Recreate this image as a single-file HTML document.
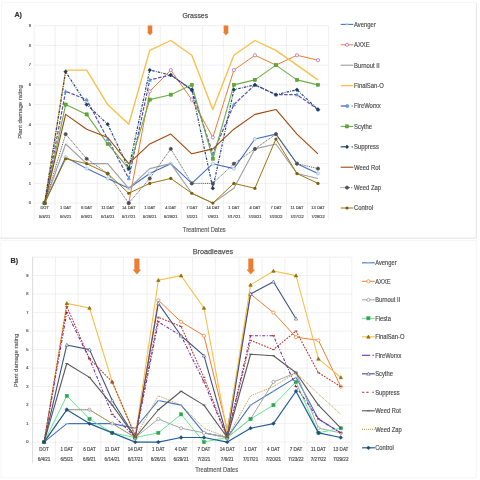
<!DOCTYPE html><html><head><meta charset="utf-8"><style>html,body{margin:0;padding:0;background:#fff;width:480px;height:480px;overflow:hidden}svg{display:block;filter:blur(0.55px)}</style></head><body>
<svg width="480" height="480" viewBox="0 0 480 480" font-family='"Liberation Sans", sans-serif'><style>text{stroke-width:0.15px}</style>
<rect width="480" height="480" fill="#ffffff"/>
<path d="M1.5 238.2V2.7H476.3" fill="none" stroke="#f6f6f6" stroke-width="1"/>
<path d="M0 238.2H476.3V2.7" fill="none" stroke="#e3e3e3" stroke-width="1"/>
<rect x="1" y="240.6" width="475.3" height="237.2" fill="#ffffff" stroke="#f6f6f6" stroke-width="1"/>
<text x="14.4" y="17.4" font-size="7.2" font-weight="bold" fill="#333333" stroke="#333333" style="stroke-width:0.2px">A)</text>
<text x="195.3" y="18" font-size="6.9" fill="#595959" stroke="#595959" style="stroke-width:0.25px" text-anchor="middle">Grasses</text>
<path d="M34.1 203.1H328.5" stroke="#e6e6e6" stroke-width="0.6"/>
<path d="M34.1 183.39H328.5" stroke="#e6e6e6" stroke-width="0.6"/>
<path d="M34.1 163.68H328.5" stroke="#e6e6e6" stroke-width="0.6"/>
<path d="M34.1 143.97H328.5" stroke="#e6e6e6" stroke-width="0.6"/>
<path d="M34.1 124.26H328.5" stroke="#e6e6e6" stroke-width="0.6"/>
<path d="M34.1 104.55H328.5" stroke="#e6e6e6" stroke-width="0.6"/>
<path d="M34.1 84.84H328.5" stroke="#e6e6e6" stroke-width="0.6"/>
<path d="M34.1 65.13H328.5" stroke="#e6e6e6" stroke-width="0.6"/>
<path d="M34.1 45.42H328.5" stroke="#e6e6e6" stroke-width="0.6"/>
<path d="M34.1 25.71H328.5" stroke="#e6e6e6" stroke-width="0.6"/>
<path d="M34.1 25.71V219.5" stroke="#e6e6e6" stroke-width="0.6"/>
<path d="M55.13 25.71V219.5" stroke="#e6e6e6" stroke-width="0.6"/>
<path d="M76.16 25.71V219.5" stroke="#e6e6e6" stroke-width="0.6"/>
<path d="M97.19 25.71V219.5" stroke="#e6e6e6" stroke-width="0.6"/>
<path d="M118.21 25.71V219.5" stroke="#e6e6e6" stroke-width="0.6"/>
<path d="M139.24 25.71V219.5" stroke="#e6e6e6" stroke-width="0.6"/>
<path d="M160.27 25.71V219.5" stroke="#e6e6e6" stroke-width="0.6"/>
<path d="M181.3 25.71V219.5" stroke="#e6e6e6" stroke-width="0.6"/>
<path d="M202.33 25.71V219.5" stroke="#e6e6e6" stroke-width="0.6"/>
<path d="M223.36 25.71V219.5" stroke="#e6e6e6" stroke-width="0.6"/>
<path d="M244.39 25.71V219.5" stroke="#e6e6e6" stroke-width="0.6"/>
<path d="M265.41 25.71V219.5" stroke="#e6e6e6" stroke-width="0.6"/>
<path d="M286.44 25.71V219.5" stroke="#e6e6e6" stroke-width="0.6"/>
<path d="M307.47 25.71V219.5" stroke="#e6e6e6" stroke-width="0.6"/>
<path d="M328.5 25.71V219.5" stroke="#e6e6e6" stroke-width="0.6"/>
<text x="31.1" y="204.4" font-size="4" fill="#595959" stroke="#595959" style="stroke-width:0.2px" text-anchor="end">0</text>
<text x="31.1" y="184.69" font-size="4" fill="#595959" stroke="#595959" style="stroke-width:0.2px" text-anchor="end">1</text>
<text x="31.1" y="164.98" font-size="4" fill="#595959" stroke="#595959" style="stroke-width:0.2px" text-anchor="end">2</text>
<text x="31.1" y="145.27" font-size="4" fill="#595959" stroke="#595959" style="stroke-width:0.2px" text-anchor="end">3</text>
<text x="31.1" y="125.56" font-size="4" fill="#595959" stroke="#595959" style="stroke-width:0.2px" text-anchor="end">4</text>
<text x="31.1" y="105.85" font-size="4" fill="#595959" stroke="#595959" style="stroke-width:0.2px" text-anchor="end">5</text>
<text x="31.1" y="86.14" font-size="4" fill="#595959" stroke="#595959" style="stroke-width:0.2px" text-anchor="end">6</text>
<text x="31.1" y="66.43" font-size="4" fill="#595959" stroke="#595959" style="stroke-width:0.2px" text-anchor="end">7</text>
<text x="31.1" y="46.72" font-size="4" fill="#595959" stroke="#595959" style="stroke-width:0.2px" text-anchor="end">8</text>
<text x="31.1" y="27.01" font-size="4" fill="#595959" stroke="#595959" style="stroke-width:0.2px" text-anchor="end">9</text>
<text x="44.61" y="209.2" font-size="4" fill="#595959" stroke="#595959" style="stroke-width:0.2px" text-anchor="middle">DOT</text>
<text x="44.61" y="217.5" font-size="4" fill="#595959" stroke="#595959" style="stroke-width:0.2px" text-anchor="middle">6/4/21</text>
<text x="65.64" y="209.2" font-size="4" fill="#595959" stroke="#595959" style="stroke-width:0.2px" text-anchor="middle">1 DAT</text>
<text x="65.64" y="217.5" font-size="4" fill="#595959" stroke="#595959" style="stroke-width:0.2px" text-anchor="middle">6/5/21</text>
<text x="86.67" y="209.2" font-size="4" fill="#595959" stroke="#595959" style="stroke-width:0.2px" text-anchor="middle">6 DAT</text>
<text x="86.67" y="217.5" font-size="4" fill="#595959" stroke="#595959" style="stroke-width:0.2px" text-anchor="middle">6/9/21</text>
<text x="107.7" y="209.2" font-size="4" fill="#595959" stroke="#595959" style="stroke-width:0.2px" text-anchor="middle">11 DAT</text>
<text x="107.7" y="217.5" font-size="4" fill="#595959" stroke="#595959" style="stroke-width:0.2px" text-anchor="middle">6/14/21</text>
<text x="128.73" y="209.2" font-size="4" fill="#595959" stroke="#595959" style="stroke-width:0.2px" text-anchor="middle">14 DAT</text>
<text x="128.73" y="217.5" font-size="4" fill="#595959" stroke="#595959" style="stroke-width:0.2px" text-anchor="middle">6/17/21</text>
<text x="149.76" y="209.2" font-size="4" fill="#595959" stroke="#595959" style="stroke-width:0.2px" text-anchor="middle">1 DAT</text>
<text x="149.76" y="217.5" font-size="4" fill="#595959" stroke="#595959" style="stroke-width:0.2px" text-anchor="middle">6/26/21</text>
<text x="170.79" y="209.2" font-size="4" fill="#595959" stroke="#595959" style="stroke-width:0.2px" text-anchor="middle">4 DAT</text>
<text x="170.79" y="217.5" font-size="4" fill="#595959" stroke="#595959" style="stroke-width:0.2px" text-anchor="middle">6/29/21</text>
<text x="191.81" y="209.2" font-size="4" fill="#595959" stroke="#595959" style="stroke-width:0.2px" text-anchor="middle">7 DAT</text>
<text x="191.81" y="217.5" font-size="4" fill="#595959" stroke="#595959" style="stroke-width:0.2px" text-anchor="middle">7/2/21</text>
<text x="212.84" y="209.2" font-size="4" fill="#595959" stroke="#595959" style="stroke-width:0.2px" text-anchor="middle">14 DAT</text>
<text x="212.84" y="217.5" font-size="4" fill="#595959" stroke="#595959" style="stroke-width:0.2px" text-anchor="middle">7/9/21</text>
<text x="233.87" y="209.2" font-size="4" fill="#595959" stroke="#595959" style="stroke-width:0.2px" text-anchor="middle">1 DAT</text>
<text x="233.87" y="217.5" font-size="4" fill="#595959" stroke="#595959" style="stroke-width:0.2px" text-anchor="middle">7/17/21</text>
<text x="254.9" y="209.2" font-size="4" fill="#595959" stroke="#595959" style="stroke-width:0.2px" text-anchor="middle">4 DAT</text>
<text x="254.9" y="217.5" font-size="4" fill="#595959" stroke="#595959" style="stroke-width:0.2px" text-anchor="middle">7/20/21</text>
<text x="275.93" y="209.2" font-size="4" fill="#595959" stroke="#595959" style="stroke-width:0.2px" text-anchor="middle">7 DAT</text>
<text x="275.93" y="217.5" font-size="4" fill="#595959" stroke="#595959" style="stroke-width:0.2px" text-anchor="middle">7/23/22</text>
<text x="296.96" y="209.2" font-size="4" fill="#595959" stroke="#595959" style="stroke-width:0.2px" text-anchor="middle">11 DAT</text>
<text x="296.96" y="217.5" font-size="4" fill="#595959" stroke="#595959" style="stroke-width:0.2px" text-anchor="middle">7/27/22</text>
<text x="317.99" y="209.2" font-size="4" fill="#595959" stroke="#595959" style="stroke-width:0.2px" text-anchor="middle">13 DAT</text>
<text x="317.99" y="217.5" font-size="4" fill="#595959" stroke="#595959" style="stroke-width:0.2px" text-anchor="middle">7/29/22</text>
<path d="M44.61 203.1L65.64 157.18L86.67 168.61L107.7 178.46L128.73 188.32L149.76 173.53L170.79 163.68L191.81 183.39L212.84 163.68L233.87 168.61L254.9 139.04L275.93 134.12L296.96 163.68L317.99 173.53" fill="none" stroke="#4472c4" stroke-width="1.1" stroke-linejoin="round"/>
<circle cx="44.61" cy="203.1" r="1.6" fill="#dbe8f6" stroke="#9dc3e6" stroke-width="0.7"/>
<circle cx="65.64" cy="157.18" r="1.6" fill="#dbe8f6" stroke="#9dc3e6" stroke-width="0.7"/>
<circle cx="86.67" cy="168.61" r="1.6" fill="#dbe8f6" stroke="#9dc3e6" stroke-width="0.7"/>
<circle cx="107.7" cy="178.46" r="1.6" fill="#dbe8f6" stroke="#9dc3e6" stroke-width="0.7"/>
<circle cx="128.73" cy="188.32" r="1.6" fill="#dbe8f6" stroke="#9dc3e6" stroke-width="0.7"/>
<circle cx="149.76" cy="173.53" r="1.6" fill="#dbe8f6" stroke="#9dc3e6" stroke-width="0.7"/>
<circle cx="170.79" cy="163.68" r="1.6" fill="#dbe8f6" stroke="#9dc3e6" stroke-width="0.7"/>
<circle cx="191.81" cy="183.39" r="1.6" fill="#dbe8f6" stroke="#9dc3e6" stroke-width="0.7"/>
<circle cx="212.84" cy="163.68" r="1.6" fill="#dbe8f6" stroke="#9dc3e6" stroke-width="0.7"/>
<circle cx="233.87" cy="168.61" r="1.6" fill="#dbe8f6" stroke="#9dc3e6" stroke-width="0.7"/>
<circle cx="254.9" cy="139.04" r="1.6" fill="#dbe8f6" stroke="#9dc3e6" stroke-width="0.7"/>
<circle cx="275.93" cy="134.12" r="1.6" fill="#dbe8f6" stroke="#9dc3e6" stroke-width="0.7"/>
<circle cx="296.96" cy="163.68" r="1.6" fill="#dbe8f6" stroke="#9dc3e6" stroke-width="0.7"/>
<circle cx="317.99" cy="173.53" r="1.6" fill="#dbe8f6" stroke="#9dc3e6" stroke-width="0.7"/>
<path d="M128.73 203.1L149.76 91.34L170.79 70.06L191.81 99.62L212.84 137.47L233.87 70.06L254.9 55.27L275.93 65.13L296.96 55.27L317.99 60.2" fill="none" stroke="#ed7d31" stroke-width="1" stroke-linejoin="round"/>
<circle cx="128.73" cy="203.1" r="1.6" fill="#ffffff" stroke="#9e5fa8" stroke-width="0.7"/>
<circle cx="149.76" cy="91.34" r="1.6" fill="#ffffff" stroke="#9e5fa8" stroke-width="0.7"/>
<circle cx="170.79" cy="70.06" r="1.6" fill="#ffffff" stroke="#9e5fa8" stroke-width="0.7"/>
<circle cx="191.81" cy="99.62" r="1.6" fill="#ffffff" stroke="#9e5fa8" stroke-width="0.7"/>
<circle cx="212.84" cy="137.47" r="1.6" fill="#ffffff" stroke="#9e5fa8" stroke-width="0.7"/>
<circle cx="233.87" cy="70.06" r="1.6" fill="#ffffff" stroke="#9e5fa8" stroke-width="0.7"/>
<circle cx="254.9" cy="55.27" r="1.6" fill="#ffffff" stroke="#9e5fa8" stroke-width="0.7"/>
<circle cx="275.93" cy="65.13" r="1.6" fill="#ffffff" stroke="#9e5fa8" stroke-width="0.7"/>
<circle cx="296.96" cy="55.27" r="1.6" fill="#ffffff" stroke="#9e5fa8" stroke-width="0.7"/>
<circle cx="317.99" cy="60.2" r="1.6" fill="#ffffff" stroke="#9e5fa8" stroke-width="0.7"/>
<path d="M44.61 203.1L65.64 143.97L86.67 163.68L107.7 163.68L128.73 188.32L149.76 168.61L170.79 163.68L191.81 193.25L212.84 203.1L233.87 188.32L254.9 148.9L275.93 143.97L296.96 173.53L317.99 178.46" fill="none" stroke="#a0a0a0" stroke-width="1.15" stroke-linejoin="round"/>














<path d="M44.61 203.1L65.64 70.06L86.67 70.06L107.7 104.55L128.73 124.26L149.76 50.35L170.79 40.49L191.81 55.27L212.84 109.48L233.87 55.27L254.9 40.49L275.93 50.35L296.96 65.13L317.99 79.91" fill="none" stroke="#f7c048" stroke-width="1.35" stroke-linejoin="round"/>














<path d="M44.61 203.1L65.64 91.34L86.67 99.62L107.7 139.04L128.73 178.46L149.76 79.91L170.79 74.98L191.81 89.77L212.84 153.82L233.87 104.55L254.9 84.84L275.93 94.69L296.96 94.69L317.99 109.48" fill="none" stroke="#5b4fb0" stroke-width="1.2" stroke-linejoin="round" stroke-dasharray="3.5 1.5"/>
<path d="M44.61 201.4L46.31 204.46L42.91 204.46Z" fill="#5b9bd5" stroke="#5b9bd5" stroke-width="0.6"/>
<path d="M65.64 89.64L67.34 92.7L63.94 92.7Z" fill="#5b9bd5" stroke="#5b9bd5" stroke-width="0.6"/>
<path d="M86.67 97.92L88.37 100.98L84.97 100.98Z" fill="#5b9bd5" stroke="#5b9bd5" stroke-width="0.6"/>
<path d="M107.7 137.34L109.4 140.4L106 140.4Z" fill="#5b9bd5" stroke="#5b9bd5" stroke-width="0.6"/>
<path d="M128.73 176.76L130.43 179.82L127.03 179.82Z" fill="#5b9bd5" stroke="#5b9bd5" stroke-width="0.6"/>
<path d="M149.76 78.21L151.46 81.27L148.06 81.27Z" fill="#5b9bd5" stroke="#5b9bd5" stroke-width="0.6"/>
<path d="M170.79 73.28L172.49 76.34L169.09 76.34Z" fill="#5b9bd5" stroke="#5b9bd5" stroke-width="0.6"/>
<path d="M191.81 88.07L193.51 91.13L190.11 91.13Z" fill="#5b9bd5" stroke="#5b9bd5" stroke-width="0.6"/>
<path d="M212.84 152.12L214.54 155.19L211.14 155.19Z" fill="#5b9bd5" stroke="#5b9bd5" stroke-width="0.6"/>
<path d="M233.87 102.85L235.57 105.91L232.17 105.91Z" fill="#5b9bd5" stroke="#5b9bd5" stroke-width="0.6"/>
<path d="M254.9 83.14L256.6 86.2L253.2 86.2Z" fill="#5b9bd5" stroke="#5b9bd5" stroke-width="0.6"/>
<path d="M275.93 92.99L277.63 96.05L274.23 96.05Z" fill="#5b9bd5" stroke="#5b9bd5" stroke-width="0.6"/>
<path d="M296.96 92.99L298.66 96.05L295.26 96.05Z" fill="#5b9bd5" stroke="#5b9bd5" stroke-width="0.6"/>
<path d="M317.99 107.78L319.69 110.84L316.29 110.84Z" fill="#5b9bd5" stroke="#5b9bd5" stroke-width="0.6"/>
<path d="M44.61 203.1L65.64 104.55L86.67 114.4L107.7 143.97L128.73 168.61L149.76 99.62L170.79 94.69L191.81 84.84L212.84 158.75L233.87 84.84L254.9 79.91L275.93 65.13L296.96 79.91L317.99 84.84" fill="none" stroke="#70ad47" stroke-width="1.1" stroke-linejoin="round"/>
<rect x="43.01" y="201.5" width="3.2" height="3.2" fill="#5fa83a" stroke="#4f9a30" stroke-width="0.5"/>
<rect x="64.04" y="102.95" width="3.2" height="3.2" fill="#5fa83a" stroke="#4f9a30" stroke-width="0.5"/>
<rect x="85.07" y="112.8" width="3.2" height="3.2" fill="#5fa83a" stroke="#4f9a30" stroke-width="0.5"/>
<rect x="106.1" y="142.37" width="3.2" height="3.2" fill="#5fa83a" stroke="#4f9a30" stroke-width="0.5"/>
<rect x="127.13" y="167.01" width="3.2" height="3.2" fill="#5fa83a" stroke="#4f9a30" stroke-width="0.5"/>
<rect x="148.16" y="98.02" width="3.2" height="3.2" fill="#5fa83a" stroke="#4f9a30" stroke-width="0.5"/>
<rect x="169.19" y="93.09" width="3.2" height="3.2" fill="#5fa83a" stroke="#4f9a30" stroke-width="0.5"/>
<rect x="190.21" y="83.24" width="3.2" height="3.2" fill="#5fa83a" stroke="#4f9a30" stroke-width="0.5"/>
<rect x="211.24" y="157.15" width="3.2" height="3.2" fill="#5fa83a" stroke="#4f9a30" stroke-width="0.5"/>
<rect x="232.27" y="83.24" width="3.2" height="3.2" fill="#5fa83a" stroke="#4f9a30" stroke-width="0.5"/>
<rect x="253.3" y="78.31" width="3.2" height="3.2" fill="#5fa83a" stroke="#4f9a30" stroke-width="0.5"/>
<rect x="274.33" y="63.53" width="3.2" height="3.2" fill="#5fa83a" stroke="#4f9a30" stroke-width="0.5"/>
<rect x="295.36" y="78.31" width="3.2" height="3.2" fill="#5fa83a" stroke="#4f9a30" stroke-width="0.5"/>
<rect x="316.39" y="83.24" width="3.2" height="3.2" fill="#5fa83a" stroke="#4f9a30" stroke-width="0.5"/>
<path d="M44.61 203.1L65.64 71.63L86.67 104.55L107.7 124.26L128.73 168.61L149.76 70.06L170.79 74.98L191.81 89.77L212.84 188.32L233.87 89.77L254.9 84.84L275.93 94.69L296.96 89.77L317.99 109.48" fill="none" stroke="#264478" stroke-width="1.2" stroke-linejoin="round" stroke-dasharray="2.5 1.2 0.8 1.2"/>
<path d="M44.61 201.2L46.51 203.1L44.61 205L42.71 203.1Z" fill="#203864" stroke="#203864" stroke-width="0.4"/>
<path d="M65.64 69.73L67.54 71.63L65.64 73.53L63.74 71.63Z" fill="#203864" stroke="#203864" stroke-width="0.4"/>
<path d="M86.67 102.65L88.57 104.55L86.67 106.45L84.77 104.55Z" fill="#203864" stroke="#203864" stroke-width="0.4"/>
<path d="M107.7 122.36L109.6 124.26L107.7 126.16L105.8 124.26Z" fill="#203864" stroke="#203864" stroke-width="0.4"/>
<path d="M128.73 166.71L130.63 168.61L128.73 170.51L126.83 168.61Z" fill="#203864" stroke="#203864" stroke-width="0.4"/>
<path d="M149.76 68.16L151.66 70.06L149.76 71.96L147.86 70.06Z" fill="#203864" stroke="#203864" stroke-width="0.4"/>
<path d="M170.79 73.08L172.69 74.98L170.79 76.88L168.89 74.98Z" fill="#203864" stroke="#203864" stroke-width="0.4"/>
<path d="M191.81 87.87L193.71 89.77L191.81 91.67L189.91 89.77Z" fill="#203864" stroke="#203864" stroke-width="0.4"/>
<path d="M212.84 186.42L214.74 188.32L212.84 190.22L210.94 188.32Z" fill="#203864" stroke="#203864" stroke-width="0.4"/>
<path d="M233.87 87.87L235.77 89.77L233.87 91.67L231.97 89.77Z" fill="#203864" stroke="#203864" stroke-width="0.4"/>
<path d="M254.9 82.94L256.8 84.84L254.9 86.74L253 84.84Z" fill="#203864" stroke="#203864" stroke-width="0.4"/>
<path d="M275.93 92.79L277.83 94.69L275.93 96.59L274.03 94.69Z" fill="#203864" stroke="#203864" stroke-width="0.4"/>
<path d="M296.96 87.87L298.86 89.77L296.96 91.67L295.06 89.77Z" fill="#203864" stroke="#203864" stroke-width="0.4"/>
<path d="M317.99 107.58L319.89 109.48L317.99 111.38L316.09 109.48Z" fill="#203864" stroke="#203864" stroke-width="0.4"/>
<path d="M44.61 203.1L65.64 114.4L86.67 129.19L107.7 137.47L128.73 163.68L149.76 143.97L170.79 134.12L191.81 153.82L212.84 148.9L233.87 129.19L254.9 114.4L275.93 109.48L296.96 134.12L317.99 153.82" fill="none" stroke="#9e480e" stroke-width="1.1" stroke-linejoin="round"/>














<path d="M44.61 203.1L65.64 134.12L86.67 158.75L107.7 173.53L128.73 203.1L149.76 178.46L170.79 148.9L191.81 183.39L212.84 183.39L233.87 163.68L254.9 148.9L275.93 134.12L296.96 163.68L317.99 168.61" fill="none" stroke="#555555" stroke-width="0.95" stroke-linejoin="round" stroke-dasharray="1 0.9"/>
<circle cx="44.61" cy="203.1" r="1.6" fill="#505050" stroke="#505050" stroke-width="0.7"/>
<circle cx="65.64" cy="134.12" r="1.6" fill="#505050" stroke="#505050" stroke-width="0.7"/>
<circle cx="86.67" cy="158.75" r="1.6" fill="#505050" stroke="#505050" stroke-width="0.7"/>
<circle cx="107.7" cy="173.53" r="1.6" fill="#505050" stroke="#505050" stroke-width="0.7"/>
<circle cx="128.73" cy="203.1" r="1.6" fill="#505050" stroke="#505050" stroke-width="0.7"/>
<circle cx="149.76" cy="178.46" r="1.6" fill="#505050" stroke="#505050" stroke-width="0.7"/>
<circle cx="170.79" cy="148.9" r="1.6" fill="#505050" stroke="#505050" stroke-width="0.7"/>
<circle cx="191.81" cy="183.39" r="1.6" fill="#505050" stroke="#505050" stroke-width="0.7"/>
<circle cx="212.84" cy="183.39" r="1.6" fill="#505050" stroke="#505050" stroke-width="0.7"/>
<circle cx="233.87" cy="163.68" r="1.6" fill="#505050" stroke="#505050" stroke-width="0.7"/>
<circle cx="254.9" cy="148.9" r="1.6" fill="#505050" stroke="#505050" stroke-width="0.7"/>
<circle cx="275.93" cy="134.12" r="1.6" fill="#505050" stroke="#505050" stroke-width="0.7"/>
<circle cx="296.96" cy="163.68" r="1.6" fill="#505050" stroke="#505050" stroke-width="0.7"/>
<circle cx="317.99" cy="168.61" r="1.6" fill="#505050" stroke="#505050" stroke-width="0.7"/>
<path d="M44.61 203.1L65.64 158.75L86.67 163.68L107.7 173.53L128.73 193.25L149.76 183.39L170.79 178.46L191.81 193.25L212.84 203.1L233.87 183.39L254.9 188.32L275.93 139.04L296.96 173.53L317.99 183.39" fill="none" stroke="#9c7412" stroke-width="1" stroke-linejoin="round"/>
<circle cx="44.61" cy="203.1" r="1.6" fill="#7f6000"/>
<circle cx="65.64" cy="158.75" r="1.6" fill="#7f6000"/>
<circle cx="86.67" cy="163.68" r="1.6" fill="#7f6000"/>
<circle cx="107.7" cy="173.53" r="1.6" fill="#7f6000"/>
<circle cx="128.73" cy="193.25" r="1.6" fill="#7f6000"/>
<circle cx="149.76" cy="183.39" r="1.6" fill="#7f6000"/>
<circle cx="170.79" cy="178.46" r="1.6" fill="#7f6000"/>
<circle cx="191.81" cy="193.25" r="1.6" fill="#7f6000"/>
<circle cx="212.84" cy="203.1" r="1.6" fill="#7f6000"/>
<circle cx="233.87" cy="183.39" r="1.6" fill="#7f6000"/>
<circle cx="254.9" cy="188.32" r="1.6" fill="#7f6000"/>
<circle cx="275.93" cy="139.04" r="1.6" fill="#7f6000"/>
<circle cx="296.96" cy="173.53" r="1.6" fill="#7f6000"/>
<circle cx="317.99" cy="183.39" r="1.6" fill="#7f6000"/>
<path d="M340.7 24.4H353.3" stroke="#4472c4" stroke-width="1.1"/>
<path d="M345.4 24.4H348.6M347 23.28V25.52" stroke="#9dc3e6" stroke-width="0.8"/>
<text transform="translate(354 26.7) scale(0.9 1)" font-size="6.56" fill="#4a4a4a" stroke="#4a4a4a">Avenger</text>
<path d="M340.7 44.8H353.3" stroke="#ed7d31" stroke-width="1"/>
<circle cx="347" cy="44.8" r="1.6" fill="#ffffff" stroke="#9e5fa8" stroke-width="0.7"/>
<text transform="translate(354 47.1) scale(0.9 1)" font-size="6.56" fill="#4a4a4a" stroke="#4a4a4a">AXXE</text>
<path d="M340.7 65.2H353.3" stroke="#a0a0a0" stroke-width="1.15"/>

<text transform="translate(354 67.5) scale(0.9 1)" font-size="6.56" fill="#4a4a4a" stroke="#4a4a4a">Burnout II</text>
<path d="M340.7 85.6H353.3" stroke="#f7c048" stroke-width="1.35"/>

<text transform="translate(354 87.9) scale(0.9 1)" font-size="6.56" fill="#4a4a4a" stroke="#4a4a4a">FinalSan-O</text>
<path d="M340.7 106H347" stroke="#5b4fb0" stroke-width="1.2"/>
<path d="M351.6 106H352.8" stroke="#5b4fb0" stroke-width="1.2"/>
<circle cx="347.3" cy="106" r="1.6" fill="#5b9bd5" stroke="#5b9bd5" stroke-width="0.7"/>
<text transform="translate(354 108.3) scale(0.9 1)" font-size="6.56" fill="#4a4a4a" stroke="#4a4a4a">FireWorxx</text>
<path d="M340.7 126.4H353.3" stroke="#70ad47" stroke-width="1.1"/>
<rect x="345.4" y="124.8" width="3.2" height="3.2" fill="#5fa83a" stroke="#4f9a30" stroke-width="0.5"/>
<text transform="translate(354 128.7) scale(0.9 1)" font-size="6.56" fill="#4a4a4a" stroke="#4a4a4a">Scythe</text>
<path d="M340.7 146.8H345.5" stroke="#264478" stroke-width="1.2"/>
<path d="M351.6 146.8H352.8" stroke="#264478" stroke-width="1.2"/>
<path d="M347 144.9L348.9 146.8L347 148.7L345.1 146.8Z" fill="#203864" stroke="#203864" stroke-width="0.4"/>
<text transform="translate(354 149.1) scale(0.9 1)" font-size="6.56" fill="#4a4a4a" stroke="#4a4a4a">Suppress</text>
<path d="M340.7 167.2H353.3" stroke="#9e480e" stroke-width="1.1"/>

<text transform="translate(354 169.5) scale(0.9 1)" font-size="6.56" fill="#4a4a4a" stroke="#4a4a4a">Weed Rot</text>
<path d="M340.7 187.6H341.6" stroke="#555555" stroke-width="0.95"/>
<path d="M342.6 187.6H343.5" stroke="#555555" stroke-width="0.95"/>
<path d="M344.5 187.6H350" stroke="#555555" stroke-width="0.95"/>
<path d="M351.2 187.6H352.2" stroke="#555555" stroke-width="0.95"/>
<circle cx="347" cy="187.6" r="1.6" fill="#505050" stroke="#505050" stroke-width="0.7"/>
<text transform="translate(354 189.9) scale(0.9 1)" font-size="6.56" fill="#4a4a4a" stroke="#4a4a4a">Weed Zap</text>
<path d="M340.7 208H353.3" stroke="#9c7412" stroke-width="1"/>
<circle cx="347" cy="208" r="1.6" fill="#7f6000"/>
<text transform="translate(354 210.3) scale(0.9 1)" font-size="6.56" fill="#4a4a4a" stroke="#4a4a4a">Control</text>
<text transform="translate(204.3 231.6) scale(0.88 1)" font-size="6.6" fill="#595959" stroke="#595959" text-anchor="middle">Treatment Dates</text>
<text transform="translate(21.5 112) rotate(-90)" font-size="6" fill="#595959" stroke="#595959" text-anchor="middle">Plant damage rating</text>
<path d="M147.9 25.8H152.1V32.4H152.5L150 35.2L147.5 32.4H147.9Z" fill="#ed7d31" stroke="#e46c2a" stroke-width="0.3"/>
<path d="M223.9 25.8H228.1V32.4H228.5L226 35.2L223.5 32.4H223.9Z" fill="#ed7d31" stroke="#e46c2a" stroke-width="0.3"/>
<text x="10.6" y="262.8" font-size="7.2" font-weight="bold" fill="#333333" stroke="#333333" style="stroke-width:0.2px">B)</text>
<text x="212.9" y="253.7" font-size="7.25" fill="#595959" stroke="#595959" style="stroke-width:0.25px" text-anchor="middle">Broadleaves</text>
<path d="M32.6 442.1H351.8" stroke="#e6e6e6" stroke-width="0.6"/>
<path d="M32.6 423.6H351.8" stroke="#e6e6e6" stroke-width="0.6"/>
<path d="M32.6 405.1H351.8" stroke="#e6e6e6" stroke-width="0.6"/>
<path d="M32.6 386.6H351.8" stroke="#e6e6e6" stroke-width="0.6"/>
<path d="M32.6 368.1H351.8" stroke="#e6e6e6" stroke-width="0.6"/>
<path d="M32.6 349.6H351.8" stroke="#e6e6e6" stroke-width="0.6"/>
<path d="M32.6 331.1H351.8" stroke="#e6e6e6" stroke-width="0.6"/>
<path d="M32.6 312.6H351.8" stroke="#e6e6e6" stroke-width="0.6"/>
<path d="M32.6 294.1H351.8" stroke="#e6e6e6" stroke-width="0.6"/>
<path d="M32.6 275.6H351.8" stroke="#e6e6e6" stroke-width="0.6"/>
<path d="M32.6 257.1H351.8" stroke="#e6e6e6" stroke-width="0.6"/>
<path d="M32.6 257.1V462.7" stroke="#e6e6e6" stroke-width="0.6"/>
<path d="M55.5 257.1V462.7" stroke="#e6e6e6" stroke-width="0.6"/>
<path d="M78.1 257.1V462.7" stroke="#e6e6e6" stroke-width="0.6"/>
<path d="M100.9 257.1V462.7" stroke="#e6e6e6" stroke-width="0.6"/>
<path d="M123.6 257.1V462.7" stroke="#e6e6e6" stroke-width="0.6"/>
<path d="M147 257.1V462.7" stroke="#e6e6e6" stroke-width="0.6"/>
<path d="M169.7 257.1V462.7" stroke="#e6e6e6" stroke-width="0.6"/>
<path d="M192.5 257.1V462.7" stroke="#e6e6e6" stroke-width="0.6"/>
<path d="M215.4 257.1V462.7" stroke="#e6e6e6" stroke-width="0.6"/>
<path d="M239.1 257.1V462.7" stroke="#e6e6e6" stroke-width="0.6"/>
<path d="M262 257.1V462.7" stroke="#e6e6e6" stroke-width="0.6"/>
<path d="M284.9 257.1V462.7" stroke="#e6e6e6" stroke-width="0.6"/>
<path d="M307.1 257.1V462.7" stroke="#e6e6e6" stroke-width="0.6"/>
<path d="M329.8 257.1V462.7" stroke="#e6e6e6" stroke-width="0.6"/>
<path d="M351.8 257.1V462.7" stroke="#e6e6e6" stroke-width="0.6"/>
<text x="28.5" y="443.4" font-size="4" fill="#595959" stroke="#595959" style="stroke-width:0.2px" text-anchor="end">0</text>
<text x="28.5" y="424.9" font-size="4" fill="#595959" stroke="#595959" style="stroke-width:0.2px" text-anchor="end">1</text>
<text x="28.5" y="406.4" font-size="4" fill="#595959" stroke="#595959" style="stroke-width:0.2px" text-anchor="end">2</text>
<text x="28.5" y="387.9" font-size="4" fill="#595959" stroke="#595959" style="stroke-width:0.2px" text-anchor="end">3</text>
<text x="28.5" y="369.4" font-size="4" fill="#595959" stroke="#595959" style="stroke-width:0.2px" text-anchor="end">4</text>
<text x="28.5" y="350.9" font-size="4" fill="#595959" stroke="#595959" style="stroke-width:0.2px" text-anchor="end">5</text>
<text x="28.5" y="332.4" font-size="4" fill="#595959" stroke="#595959" style="stroke-width:0.2px" text-anchor="end">6</text>
<text x="28.5" y="313.9" font-size="4" fill="#595959" stroke="#595959" style="stroke-width:0.2px" text-anchor="end">7</text>
<text x="28.5" y="295.4" font-size="4" fill="#595959" stroke="#595959" style="stroke-width:0.2px" text-anchor="end">8</text>
<text x="28.5" y="276.9" font-size="4" fill="#595959" stroke="#595959" style="stroke-width:0.2px" text-anchor="end">9</text>
<text x="44.05" y="450.9" font-size="4.6" fill="#595959" stroke="#595959" style="stroke-width:0.2px" text-anchor="middle">DOT</text>
<text x="44.05" y="460.5" font-size="4.6" fill="#595959" stroke="#595959" style="stroke-width:0.2px" text-anchor="middle">6/4/21</text>
<text x="66.8" y="450.9" font-size="4.6" fill="#595959" stroke="#595959" style="stroke-width:0.2px" text-anchor="middle">1 DAT</text>
<text x="66.8" y="460.5" font-size="4.6" fill="#595959" stroke="#595959" style="stroke-width:0.2px" text-anchor="middle">6/5/21</text>
<text x="89.5" y="450.9" font-size="4.6" fill="#595959" stroke="#595959" style="stroke-width:0.2px" text-anchor="middle">6 DAT</text>
<text x="89.5" y="460.5" font-size="4.6" fill="#595959" stroke="#595959" style="stroke-width:0.2px" text-anchor="middle">6/9/21</text>
<text x="112.25" y="450.9" font-size="4.6" fill="#595959" stroke="#595959" style="stroke-width:0.2px" text-anchor="middle">11 DAT</text>
<text x="112.25" y="460.5" font-size="4.6" fill="#595959" stroke="#595959" style="stroke-width:0.2px" text-anchor="middle">6/14/21</text>
<text x="135.3" y="450.9" font-size="4.6" fill="#595959" stroke="#595959" style="stroke-width:0.2px" text-anchor="middle">14 DAT</text>
<text x="135.3" y="460.5" font-size="4.6" fill="#595959" stroke="#595959" style="stroke-width:0.2px" text-anchor="middle">6/17/21</text>
<text x="158.35" y="450.9" font-size="4.6" fill="#595959" stroke="#595959" style="stroke-width:0.2px" text-anchor="middle">1 DAT</text>
<text x="158.35" y="460.5" font-size="4.6" fill="#595959" stroke="#595959" style="stroke-width:0.2px" text-anchor="middle">6/26/21</text>
<text x="181.1" y="450.9" font-size="4.6" fill="#595959" stroke="#595959" style="stroke-width:0.2px" text-anchor="middle">4 DAT</text>
<text x="181.1" y="460.5" font-size="4.6" fill="#595959" stroke="#595959" style="stroke-width:0.2px" text-anchor="middle">6/29/21</text>
<text x="203.95" y="450.9" font-size="4.6" fill="#595959" stroke="#595959" style="stroke-width:0.2px" text-anchor="middle">7 DAT</text>
<text x="203.95" y="460.5" font-size="4.6" fill="#595959" stroke="#595959" style="stroke-width:0.2px" text-anchor="middle">7/2/21</text>
<text x="227.25" y="450.9" font-size="4.6" fill="#595959" stroke="#595959" style="stroke-width:0.2px" text-anchor="middle">14 DAT</text>
<text x="227.25" y="460.5" font-size="4.6" fill="#595959" stroke="#595959" style="stroke-width:0.2px" text-anchor="middle">7/9/21</text>
<text x="250.55" y="450.9" font-size="4.6" fill="#595959" stroke="#595959" style="stroke-width:0.2px" text-anchor="middle">1 DAT</text>
<text x="250.55" y="460.5" font-size="4.6" fill="#595959" stroke="#595959" style="stroke-width:0.2px" text-anchor="middle">7/17/21</text>
<text x="273.45" y="450.9" font-size="4.6" fill="#595959" stroke="#595959" style="stroke-width:0.2px" text-anchor="middle">4 DAT</text>
<text x="273.45" y="460.5" font-size="4.6" fill="#595959" stroke="#595959" style="stroke-width:0.2px" text-anchor="middle">7/20/21</text>
<text x="296" y="450.9" font-size="4.6" fill="#595959" stroke="#595959" style="stroke-width:0.2px" text-anchor="middle">7 DAT</text>
<text x="296" y="460.5" font-size="4.6" fill="#595959" stroke="#595959" style="stroke-width:0.2px" text-anchor="middle">7/23/22</text>
<text x="318.45" y="450.9" font-size="4.6" fill="#595959" stroke="#595959" style="stroke-width:0.2px" text-anchor="middle">11 DAT</text>
<text x="318.45" y="460.5" font-size="4.6" fill="#595959" stroke="#595959" style="stroke-width:0.2px" text-anchor="middle">7/27/22</text>
<text x="340.8" y="450.9" font-size="4.6" fill="#595959" stroke="#595959" style="stroke-width:0.2px" text-anchor="middle">13 DAT</text>
<text x="340.8" y="460.5" font-size="4.6" fill="#595959" stroke="#595959" style="stroke-width:0.2px" text-anchor="middle">7/29/22</text>
<path d="M44.05 442.1L66.8 423.6L89.5 423.6L112.25 423.6L135.3 428.23L158.35 400.48L181.1 405.1L203.95 432.85L227.25 437.48L250.55 405.1L273.45 391.23L296 377.35L318.45 418.98L340.8 432.85" fill="none" stroke="#4472c4" stroke-width="1.1" stroke-linejoin="round"/>
<path d="M42.55 442.1H45.55" stroke="#9dc3e6" stroke-width="0.9"/>
<path d="M65.3 423.6H68.3" stroke="#9dc3e6" stroke-width="0.9"/>
<path d="M88 423.6H91" stroke="#9dc3e6" stroke-width="0.9"/>
<path d="M110.75 423.6H113.75" stroke="#9dc3e6" stroke-width="0.9"/>
<path d="M133.8 428.23H136.8" stroke="#9dc3e6" stroke-width="0.9"/>
<path d="M156.85 400.48H159.85" stroke="#9dc3e6" stroke-width="0.9"/>
<path d="M179.6 405.1H182.6" stroke="#9dc3e6" stroke-width="0.9"/>
<path d="M202.45 432.85H205.45" stroke="#9dc3e6" stroke-width="0.9"/>
<path d="M225.75 437.48H228.75" stroke="#9dc3e6" stroke-width="0.9"/>
<path d="M249.05 405.1H252.05" stroke="#9dc3e6" stroke-width="0.9"/>
<path d="M271.95 391.23H274.95" stroke="#9dc3e6" stroke-width="0.9"/>
<path d="M294.5 377.35H297.5" stroke="#9dc3e6" stroke-width="0.9"/>
<path d="M316.95 418.98H319.95" stroke="#9dc3e6" stroke-width="0.9"/>
<path d="M339.3 432.85H342.3" stroke="#9dc3e6" stroke-width="0.9"/>
<path d="M135.3 437.48L158.35 300.21L181.1 321.85L203.95 335.73L227.25 429.71L250.55 294.1L273.45 312.6L296 337.21L318.45 340.35L340.8 386.6" fill="none" stroke="#ed7d31" stroke-width="1" stroke-linejoin="round"/>
<circle cx="135.3" cy="437.48" r="1.6" fill="#ffffff" stroke="#ed7d31" stroke-width="0.7"/>
<circle cx="158.35" cy="300.21" r="1.6" fill="#ffffff" stroke="#ed7d31" stroke-width="0.7"/>
<circle cx="181.1" cy="321.85" r="1.6" fill="#ffffff" stroke="#ed7d31" stroke-width="0.7"/>
<circle cx="203.95" cy="335.73" r="1.6" fill="#ffffff" stroke="#ed7d31" stroke-width="0.7"/>
<circle cx="227.25" cy="429.71" r="1.6" fill="#ffffff" stroke="#ed7d31" stroke-width="0.7"/>
<circle cx="250.55" cy="294.1" r="1.6" fill="#ffffff" stroke="#ed7d31" stroke-width="0.7"/>
<circle cx="273.45" cy="312.6" r="1.6" fill="#ffffff" stroke="#ed7d31" stroke-width="0.7"/>
<circle cx="296" cy="337.21" r="1.6" fill="#ffffff" stroke="#ed7d31" stroke-width="0.7"/>
<circle cx="318.45" cy="340.35" r="1.6" fill="#ffffff" stroke="#ed7d31" stroke-width="0.7"/>
<circle cx="340.8" cy="386.6" r="1.6" fill="#ffffff" stroke="#ed7d31" stroke-width="0.7"/>
<path d="M44.05 442.1L66.8 409.73L89.5 409.73L112.25 423.6L135.3 437.48L158.35 418.98L181.1 428.23L203.95 432.85L227.25 437.48L250.55 418.98L273.45 381.98L296 372.73L318.45 428.23L340.8 432.85" fill="none" stroke="#a5a5a5" stroke-width="1" stroke-linejoin="round"/>
<circle cx="44.05" cy="442.1" r="1.6" fill="#ffffff" stroke="#8c8c8c" stroke-width="0.7"/>
<circle cx="66.8" cy="409.73" r="1.6" fill="#ffffff" stroke="#8c8c8c" stroke-width="0.7"/>
<circle cx="89.5" cy="409.73" r="1.6" fill="#ffffff" stroke="#8c8c8c" stroke-width="0.7"/>
<circle cx="112.25" cy="423.6" r="1.6" fill="#ffffff" stroke="#8c8c8c" stroke-width="0.7"/>
<circle cx="135.3" cy="437.48" r="1.6" fill="#ffffff" stroke="#8c8c8c" stroke-width="0.7"/>
<circle cx="158.35" cy="418.98" r="1.6" fill="#ffffff" stroke="#8c8c8c" stroke-width="0.7"/>
<circle cx="181.1" cy="428.23" r="1.6" fill="#ffffff" stroke="#8c8c8c" stroke-width="0.7"/>
<circle cx="203.95" cy="432.85" r="1.6" fill="#ffffff" stroke="#8c8c8c" stroke-width="0.7"/>
<circle cx="227.25" cy="437.48" r="1.6" fill="#ffffff" stroke="#8c8c8c" stroke-width="0.7"/>
<circle cx="250.55" cy="418.98" r="1.6" fill="#ffffff" stroke="#8c8c8c" stroke-width="0.7"/>
<circle cx="273.45" cy="381.98" r="1.6" fill="#ffffff" stroke="#8c8c8c" stroke-width="0.7"/>
<circle cx="296" cy="372.73" r="1.6" fill="#ffffff" stroke="#8c8c8c" stroke-width="0.7"/>
<circle cx="318.45" cy="428.23" r="1.6" fill="#ffffff" stroke="#8c8c8c" stroke-width="0.7"/>
<circle cx="340.8" cy="432.85" r="1.6" fill="#ffffff" stroke="#8c8c8c" stroke-width="0.7"/>
<path d="M44.05 442.1L66.8 395.85L89.5 418.98L112.25 432.85L135.3 437.48L158.35 432.85L181.1 414.35L203.95 442.1L227.25 437.48L250.55 418.98L273.45 405.1L296 381.98L318.45 432.85L340.8 428.23" fill="none" stroke="#66e88f" stroke-width="1" stroke-linejoin="round"/>
<rect x="42.45" y="440.5" width="3.2" height="3.2" fill="#2ea84f" stroke="#2ea84f" stroke-width="0.5"/>
<rect x="65.2" y="394.25" width="3.2" height="3.2" fill="#2ea84f" stroke="#2ea84f" stroke-width="0.5"/>
<rect x="87.9" y="417.38" width="3.2" height="3.2" fill="#2ea84f" stroke="#2ea84f" stroke-width="0.5"/>
<rect x="110.65" y="431.25" width="3.2" height="3.2" fill="#2ea84f" stroke="#2ea84f" stroke-width="0.5"/>
<rect x="133.7" y="435.88" width="3.2" height="3.2" fill="#2ea84f" stroke="#2ea84f" stroke-width="0.5"/>
<rect x="156.75" y="431.25" width="3.2" height="3.2" fill="#2ea84f" stroke="#2ea84f" stroke-width="0.5"/>
<rect x="179.5" y="412.75" width="3.2" height="3.2" fill="#2ea84f" stroke="#2ea84f" stroke-width="0.5"/>
<rect x="202.35" y="440.5" width="3.2" height="3.2" fill="#2ea84f" stroke="#2ea84f" stroke-width="0.5"/>
<rect x="225.65" y="435.88" width="3.2" height="3.2" fill="#2ea84f" stroke="#2ea84f" stroke-width="0.5"/>
<rect x="248.95" y="417.38" width="3.2" height="3.2" fill="#2ea84f" stroke="#2ea84f" stroke-width="0.5"/>
<rect x="271.85" y="403.5" width="3.2" height="3.2" fill="#2ea84f" stroke="#2ea84f" stroke-width="0.5"/>
<rect x="294.4" y="380.38" width="3.2" height="3.2" fill="#2ea84f" stroke="#2ea84f" stroke-width="0.5"/>
<rect x="316.85" y="431.25" width="3.2" height="3.2" fill="#2ea84f" stroke="#2ea84f" stroke-width="0.5"/>
<rect x="339.2" y="426.62" width="3.2" height="3.2" fill="#2ea84f" stroke="#2ea84f" stroke-width="0.5"/>
<path d="M44.05 442.1L66.8 303.35L89.5 307.98L112.25 381.98L135.3 436L158.35 280.23L181.1 275.6L203.95 307.98L227.25 432.85L250.55 284.85L273.45 270.98L296 275.6L318.45 358.85L340.8 377.35" fill="none" stroke="#f7c048" stroke-width="1.1" stroke-linejoin="round"/>
<path d="M44.05 440.4L45.75 443.46L42.35 443.46Z" fill="#9c7a10" stroke="#7f6000" stroke-width="0.6"/>
<path d="M66.8 301.65L68.5 304.71L65.1 304.71Z" fill="#9c7a10" stroke="#7f6000" stroke-width="0.6"/>
<path d="M89.5 306.28L91.2 309.34L87.8 309.34Z" fill="#9c7a10" stroke="#7f6000" stroke-width="0.6"/>
<path d="M112.25 380.28L113.95 383.34L110.55 383.34Z" fill="#9c7a10" stroke="#7f6000" stroke-width="0.6"/>
<path d="M135.3 434.3L137 437.36L133.6 437.36Z" fill="#9c7a10" stroke="#7f6000" stroke-width="0.6"/>
<path d="M158.35 278.53L160.05 281.59L156.65 281.59Z" fill="#9c7a10" stroke="#7f6000" stroke-width="0.6"/>
<path d="M181.1 273.9L182.8 276.96L179.4 276.96Z" fill="#9c7a10" stroke="#7f6000" stroke-width="0.6"/>
<path d="M203.95 306.28L205.65 309.34L202.25 309.34Z" fill="#9c7a10" stroke="#7f6000" stroke-width="0.6"/>
<path d="M227.25 431.15L228.95 434.21L225.55 434.21Z" fill="#9c7a10" stroke="#7f6000" stroke-width="0.6"/>
<path d="M250.55 283.15L252.25 286.21L248.85 286.21Z" fill="#9c7a10" stroke="#7f6000" stroke-width="0.6"/>
<path d="M273.45 269.28L275.15 272.34L271.75 272.34Z" fill="#9c7a10" stroke="#7f6000" stroke-width="0.6"/>
<path d="M296 273.9L297.7 276.96L294.3 276.96Z" fill="#9c7a10" stroke="#7f6000" stroke-width="0.6"/>
<path d="M318.45 357.15L320.15 360.21L316.75 360.21Z" fill="#9c7a10" stroke="#7f6000" stroke-width="0.6"/>
<path d="M340.8 375.65L342.5 378.71L339.1 378.71Z" fill="#9c7a10" stroke="#7f6000" stroke-width="0.6"/>
<path d="M44.05 442.1L66.8 312.6L89.5 358.85L112.25 414.35L135.3 437.48L158.35 321.85L181.1 335.73L203.95 381.98L227.25 437.48L250.55 335.73L273.45 335.73L296 386.6L318.45 418.98L340.8 432.85" fill="none" stroke="#7030a0" stroke-width="1.1" stroke-linejoin="round" stroke-dasharray="3 1.6 1 1.6"/>
<path d="M42.55 442.1H45.55" stroke="#c00000" stroke-width="0.9"/>
<path d="M65.3 312.6H68.3" stroke="#c00000" stroke-width="0.9"/>
<path d="M88 358.85H91" stroke="#c00000" stroke-width="0.9"/>
<path d="M110.75 414.35H113.75" stroke="#c00000" stroke-width="0.9"/>
<path d="M133.8 437.48H136.8" stroke="#c00000" stroke-width="0.9"/>
<path d="M156.85 321.85H159.85" stroke="#c00000" stroke-width="0.9"/>
<path d="M179.6 335.73H182.6" stroke="#c00000" stroke-width="0.9"/>
<path d="M202.45 381.98H205.45" stroke="#c00000" stroke-width="0.9"/>
<path d="M225.75 437.48H228.75" stroke="#c00000" stroke-width="0.9"/>
<path d="M249.05 335.73H252.05" stroke="#c00000" stroke-width="0.9"/>
<path d="M271.95 335.73H274.95" stroke="#c00000" stroke-width="0.9"/>
<path d="M294.5 386.6H297.5" stroke="#c00000" stroke-width="0.9"/>
<path d="M316.95 418.98H319.95" stroke="#c00000" stroke-width="0.9"/>
<path d="M339.3 432.85H342.3" stroke="#c00000" stroke-width="0.9"/>
<path d="M44.05 442.1L66.8 344.98L89.5 349.6L112.25 400.48L135.3 437.48L158.35 303.35L181.1 335.73L203.95 355.71L227.25 437.48L250.55 294.1L273.45 281.71L296 318.71" fill="none" stroke="#3f5282" stroke-width="1.1" stroke-linejoin="round"/>
<path d="M44.05 440.4L45.75 443.46L42.35 443.46Z" fill="#ffffff" stroke="#3f5282" stroke-width="0.6"/>
<path d="M66.8 343.28L68.5 346.34L65.1 346.34Z" fill="#ffffff" stroke="#3f5282" stroke-width="0.6"/>
<path d="M89.5 347.9L91.2 350.96L87.8 350.96Z" fill="#ffffff" stroke="#3f5282" stroke-width="0.6"/>
<path d="M112.25 398.78L113.95 401.84L110.55 401.84Z" fill="#ffffff" stroke="#3f5282" stroke-width="0.6"/>
<path d="M135.3 435.78L137 438.84L133.6 438.84Z" fill="#ffffff" stroke="#3f5282" stroke-width="0.6"/>
<path d="M158.35 301.65L160.05 304.71L156.65 304.71Z" fill="#ffffff" stroke="#3f5282" stroke-width="0.6"/>
<path d="M181.1 334.03L182.8 337.09L179.4 337.09Z" fill="#ffffff" stroke="#3f5282" stroke-width="0.6"/>
<path d="M203.95 354.01L205.65 357.07L202.25 357.07Z" fill="#ffffff" stroke="#3f5282" stroke-width="0.6"/>
<path d="M227.25 435.78L228.95 438.84L225.55 438.84Z" fill="#ffffff" stroke="#3f5282" stroke-width="0.6"/>
<path d="M250.55 292.4L252.25 295.46L248.85 295.46Z" fill="#ffffff" stroke="#3f5282" stroke-width="0.6"/>
<path d="M273.45 280.01L275.15 283.07L271.75 283.07Z" fill="#ffffff" stroke="#3f5282" stroke-width="0.6"/>
<path d="M296 317.01L297.7 320.07L294.3 320.07Z" fill="#ffffff" stroke="#3f5282" stroke-width="0.6"/>
<path d="M44.05 442.1L66.8 306.5L89.5 358.85L112.25 381.98L135.3 436L158.35 317.23L181.1 326.48L203.95 377.35L227.25 437.48L250.55 340.35L273.45 349.6L296 331.1L318.45 372.73L340.8 386.6" fill="none" stroke="#b0413e" stroke-width="1.1" stroke-linejoin="round" stroke-dasharray="1.8 1.2"/>
<path d="M42.55 442.1H45.55" stroke="#b0413e" stroke-width="0.9"/>
<path d="M65.3 306.5H68.3" stroke="#b0413e" stroke-width="0.9"/>
<path d="M88 358.85H91" stroke="#b0413e" stroke-width="0.9"/>
<path d="M110.75 381.98H113.75" stroke="#b0413e" stroke-width="0.9"/>
<path d="M133.8 436H136.8" stroke="#b0413e" stroke-width="0.9"/>
<path d="M156.85 317.23H159.85" stroke="#b0413e" stroke-width="0.9"/>
<path d="M179.6 326.48H182.6" stroke="#b0413e" stroke-width="0.9"/>
<path d="M202.45 377.35H205.45" stroke="#b0413e" stroke-width="0.9"/>
<path d="M225.75 437.48H228.75" stroke="#b0413e" stroke-width="0.9"/>
<path d="M249.05 340.35H252.05" stroke="#b0413e" stroke-width="0.9"/>
<path d="M271.95 349.6H274.95" stroke="#b0413e" stroke-width="0.9"/>
<path d="M294.5 331.1H297.5" stroke="#b0413e" stroke-width="0.9"/>
<path d="M316.95 372.73H319.95" stroke="#b0413e" stroke-width="0.9"/>
<path d="M339.3 386.6H342.3" stroke="#b0413e" stroke-width="0.9"/>
<path d="M44.05 442.1L66.8 363.48L89.5 377.35L112.25 405.1L135.3 437.48L158.35 409.73L181.1 391.23L203.95 405.1L227.25 437.48L250.55 354.23L273.45 355.71L296 372.73L318.45 405.1L340.8 428.23" fill="none" stroke="#595959" stroke-width="1.1" stroke-linejoin="round"/>
<path d="M42.55 442.1H45.55" stroke="#595959" stroke-width="0.9"/>
<path d="M65.3 363.48H68.3" stroke="#595959" stroke-width="0.9"/>
<path d="M88 377.35H91" stroke="#595959" stroke-width="0.9"/>
<path d="M110.75 405.1H113.75" stroke="#595959" stroke-width="0.9"/>
<path d="M133.8 437.48H136.8" stroke="#595959" stroke-width="0.9"/>
<path d="M156.85 409.73H159.85" stroke="#595959" stroke-width="0.9"/>
<path d="M179.6 391.23H182.6" stroke="#595959" stroke-width="0.9"/>
<path d="M202.45 405.1H205.45" stroke="#595959" stroke-width="0.9"/>
<path d="M225.75 437.48H228.75" stroke="#595959" stroke-width="0.9"/>
<path d="M249.05 354.23H252.05" stroke="#595959" stroke-width="0.9"/>
<path d="M271.95 355.71H274.95" stroke="#595959" stroke-width="0.9"/>
<path d="M294.5 372.73H297.5" stroke="#595959" stroke-width="0.9"/>
<path d="M316.95 405.1H319.95" stroke="#595959" stroke-width="0.9"/>
<path d="M339.3 428.23H342.3" stroke="#595959" stroke-width="0.9"/>
<path d="M44.05 442.1L66.8 409.73L89.5 409.73L112.25 423.6L135.3 437.48L158.35 395.85L181.1 405.1L203.95 428.23L227.25 437.48L250.55 395.85L273.45 386.6L296 372.73L318.45 394L340.8 414.35" fill="none" stroke="#b38a1a" stroke-width="0.9" stroke-linejoin="round" stroke-dasharray="1 1"/>














<path d="M44.05 442.1L66.8 409.73L89.5 423.6L112.25 432.85L135.3 442.1L158.35 442.1L181.1 437.48L203.95 437.48L227.25 442.1L250.55 428.23L273.45 423.6L296 391.23L318.45 432.85L340.8 437.48" fill="none" stroke="#255e91" stroke-width="1.2" stroke-linejoin="round"/>
<path d="M44.05 440.2L45.95 442.1L44.05 444L42.15 442.1Z" fill="#1f4e79" stroke="#1f4e79" stroke-width="0.4"/>
<path d="M66.8 407.83L68.7 409.73L66.8 411.62L64.9 409.73Z" fill="#1f4e79" stroke="#1f4e79" stroke-width="0.4"/>
<path d="M89.5 421.7L91.4 423.6L89.5 425.5L87.6 423.6Z" fill="#1f4e79" stroke="#1f4e79" stroke-width="0.4"/>
<path d="M112.25 430.95L114.15 432.85L112.25 434.75L110.35 432.85Z" fill="#1f4e79" stroke="#1f4e79" stroke-width="0.4"/>
<path d="M135.3 440.2L137.2 442.1L135.3 444L133.4 442.1Z" fill="#1f4e79" stroke="#1f4e79" stroke-width="0.4"/>
<path d="M158.35 440.2L160.25 442.1L158.35 444L156.45 442.1Z" fill="#1f4e79" stroke="#1f4e79" stroke-width="0.4"/>
<path d="M181.1 435.58L183 437.48L181.1 439.38L179.2 437.48Z" fill="#1f4e79" stroke="#1f4e79" stroke-width="0.4"/>
<path d="M203.95 435.58L205.85 437.48L203.95 439.38L202.05 437.48Z" fill="#1f4e79" stroke="#1f4e79" stroke-width="0.4"/>
<path d="M227.25 440.2L229.15 442.1L227.25 444L225.35 442.1Z" fill="#1f4e79" stroke="#1f4e79" stroke-width="0.4"/>
<path d="M250.55 426.33L252.45 428.23L250.55 430.12L248.65 428.23Z" fill="#1f4e79" stroke="#1f4e79" stroke-width="0.4"/>
<path d="M273.45 421.7L275.35 423.6L273.45 425.5L271.55 423.6Z" fill="#1f4e79" stroke="#1f4e79" stroke-width="0.4"/>
<path d="M296 389.33L297.9 391.23L296 393.12L294.1 391.23Z" fill="#1f4e79" stroke="#1f4e79" stroke-width="0.4"/>
<path d="M318.45 430.95L320.35 432.85L318.45 434.75L316.55 432.85Z" fill="#1f4e79" stroke="#1f4e79" stroke-width="0.4"/>
<path d="M340.8 435.58L342.7 437.48L340.8 439.38L338.9 437.48Z" fill="#1f4e79" stroke="#1f4e79" stroke-width="0.4"/>
<path d="M362 262.8H374.8" stroke="#4472c4" stroke-width="1.1"/>
<path d="M366.9 262.8H369.9" stroke="#9dc3e6" stroke-width="0.9"/>
<text transform="translate(375.2 265.1) scale(0.9 1)" font-size="6.44" fill="#4a4a4a" stroke="#4a4a4a">Avenger</text>
<path d="M362 281.3H374.8" stroke="#ed7d31" stroke-width="1"/>
<circle cx="368.4" cy="281.3" r="1.6" fill="#ffffff" stroke="#ed7d31" stroke-width="0.7"/>
<text transform="translate(375.2 283.6) scale(0.9 1)" font-size="6.44" fill="#4a4a4a" stroke="#4a4a4a">AXXE</text>
<path d="M362 299.8H374.8" stroke="#a5a5a5" stroke-width="1"/>
<circle cx="368.4" cy="299.8" r="1.6" fill="#ffffff" stroke="#8c8c8c" stroke-width="0.7"/>
<text transform="translate(375.2 302.1) scale(0.9 1)" font-size="6.44" fill="#4a4a4a" stroke="#4a4a4a">Burnout II</text>
<path d="M362 318.3H374.8" stroke="#66e88f" stroke-width="1"/>
<rect x="366.8" y="316.7" width="3.2" height="3.2" fill="#2ea84f" stroke="#2ea84f" stroke-width="0.5"/>
<text transform="translate(375.2 320.6) scale(0.9 1)" font-size="6.44" fill="#4a4a4a" stroke="#4a4a4a">Fiesta</text>
<path d="M362 336.8H374.8" stroke="#f7c048" stroke-width="1.1"/>
<path d="M368.4 335.1L370.1 338.16L366.7 338.16Z" fill="#9c7a10" stroke="#7f6000" stroke-width="0.6"/>
<text transform="translate(375.2 339.1) scale(0.9 1)" font-size="6.44" fill="#4a4a4a" stroke="#4a4a4a">FinalSan-O</text>
<path d="M362 355.3H370.2" stroke="#7030a0" stroke-width="1.1"/>
<path d="M372.5 355.3H374" stroke="#7030a0" stroke-width="1.1"/>
<text transform="translate(375.2 357.6) scale(0.9 1)" font-size="6.44" fill="#4a4a4a" stroke="#4a4a4a">FireWorxx</text>
<path d="M362 373.8H374.8" stroke="#3f5282" stroke-width="1.1"/>
<path d="M368.4 372.1L370.1 375.16L366.7 375.16Z" fill="#ffffff" stroke="#3f5282" stroke-width="0.6"/>
<text transform="translate(375.2 376.1) scale(0.9 1)" font-size="6.44" fill="#4a4a4a" stroke="#4a4a4a">Scythe</text>
<path d="M362 392.3H364.3" stroke="#b0413e" stroke-width="1.1"/>
<path d="M366.3 392.3H368.6" stroke="#b0413e" stroke-width="1.1"/>
<path d="M372.2 392.3H374" stroke="#b0413e" stroke-width="1.1"/>
<text transform="translate(375.2 394.6) scale(0.9 1)" font-size="6.44" fill="#4a4a4a" stroke="#4a4a4a">Suppress</text>
<path d="M362 410.8H374.8" stroke="#595959" stroke-width="1.1"/>
<path d="M366.9 410.8H369.9" stroke="#595959" stroke-width="0.9"/>
<text transform="translate(375.2 413.1) scale(0.9 1)" font-size="6.44" fill="#4a4a4a" stroke="#4a4a4a">Weed Rot</text>
<path d="M362 429.3H374.8" stroke="#b38a1a" stroke-width="0.9" stroke-dasharray="1 1"/>

<text transform="translate(375.2 431.6) scale(0.9 1)" font-size="6.44" fill="#4a4a4a" stroke="#4a4a4a">Weed Zap</text>
<path d="M362 447.8H374.8" stroke="#255e91" stroke-width="1.2"/>
<path d="M368.4 445.9L370.3 447.8L368.4 449.7L366.5 447.8Z" fill="#1f4e79" stroke="#1f4e79" stroke-width="0.4"/>
<text transform="translate(375.2 450.1) scale(0.9 1)" font-size="6.44" fill="#4a4a4a" stroke="#4a4a4a">Control</text>
<path d="M32.6 256.6V462.7" stroke="#d6d6d6" stroke-width="0.8"/>
<text transform="translate(216.7 472.2) scale(0.88 1)" font-size="6.6" fill="#595959" stroke="#595959" text-anchor="middle">Treatment Dates</text>
<text transform="translate(18.3 360.4) rotate(-90)" font-size="6" fill="#595959" stroke="#595959" text-anchor="middle">Plant damage rating</text>
<path d="M134.55 258.8H139.25V269.8H140.8L136.9 274.2L133 269.8H134.55Z" fill="#ed7d31" stroke="#e46c2a" stroke-width="0.3"/>
<path d="M248.45 258.8H253.15V269.8H254.7L250.8 274.2L246.9 269.8H248.45Z" fill="#ed7d31" stroke="#e46c2a" stroke-width="0.3"/>
</svg></body></html>
